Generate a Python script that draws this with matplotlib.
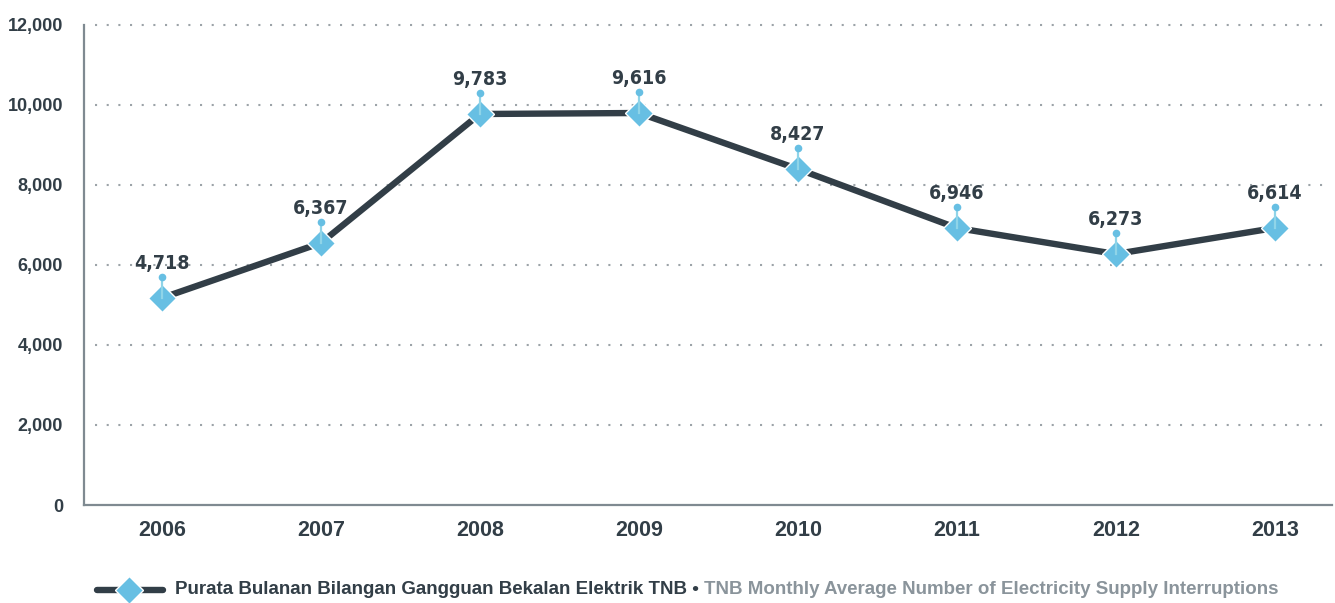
import matplotlib
matplotlib.use("Agg")
import matplotlib.pyplot as plt
from matplotlib.lines import Line2D

# ---- data ----
years = ["2006", "2007", "2008", "2009", "2010", "2011", "2012", "2013"]
plotted_values = [5175, 6550, 9775, 9800, 8400, 6925, 6275, 6925]   # positions as drawn
value_labels = ["4,718", "6,367", "9,783", "9,616", "8,427", "6,946", "6,273", "6,614"]
y_ticks = [0, 2000, 4000, 6000, 8000, 10000, 12000]
y_tick_labels = ["0", "2,000", "4,000", "6,000", "8,000", "10,000", "12,000"]
legend_malay = "Purata Bulanan Bilangan Gangguan Bekalan Elektrik TNB \u2022 "
legend_english = "TNB Monthly Average Number of Electricity Supply Interruptions"

DARK = "#323e47"
GREY_TXT = "#8a949b"
BLUE = "#67bfe3"
PIN = "#8fd4e8"
GRID = "#9ca3a8"
SPINE = "#7f8a91"

plt.rcParams["font.family"] = ["Liberation Sans", "DejaVu Sans"]

fig = plt.figure(figsize=(13.35, 6.03), dpi=100)
ax = fig.add_axes([84 / 1335, 1 - 505 / 603, (1332 - 84) / 1335, 480 / 603])

x = list(range(len(years)))
ax.set_xlim(-0.49, len(years) - 1 + 0.36)
ax.set_ylim(0, 12000)

# grid (dotted)
for yt in y_ticks[1:]:
    ax.plot([-0.42, len(years) - 1 + 0.34], [yt, yt], color=GRID, lw=1.5,
            linestyle=(0, (1, 4.6)), zorder=1, clip_on=False)

# main line
ax.plot(x, plotted_values, color=DARK, lw=4.6, zorder=3, solid_joinstyle="round")

# pins
pin_len = 525
for xi, v in zip(x, plotted_values):
    ax.plot([xi, xi], [v, v + pin_len], color=PIN, lw=1.6, zorder=5)
    ax.plot([xi], [v + pin_len], marker="o", ms=5.5, color=BLUE, mec="none", zorder=6)

# diamonds
ax.plot(x, plotted_values, linestyle="none", marker="D", ms=14, mfc=BLUE,
        mec="white", mew=1.0, zorder=4)

# value labels
for xi, v, lab in zip(x, plotted_values, value_labels):
    ax.annotate(lab, (xi, v), xytext=(0, 21), textcoords="offset points",
                ha="center", va="baseline", fontsize=14, fontweight="bold",
                fontstretch="condensed", color=DARK, family="DejaVu Sans", zorder=7)

# axes styling
for s in ["top", "right"]:
    ax.spines[s].set_visible(False)
ax.spines["left"].set_color(SPINE)
ax.spines["bottom"].set_color(SPINE)
ax.spines["left"].set_linewidth(1.6)
ax.spines["bottom"].set_linewidth(1.6)

ax.set_yticks(y_ticks)
ax.set_yticklabels(y_tick_labels, fontsize=13, fontweight="bold", color=DARK)
ax.set_xticks(x)
ax.set_xticklabels(years, fontsize=15.5, fontweight="bold", color=DARK)
ax.tick_params(axis="y", length=0, pad=15)
ax.tick_params(axis="x", length=0, pad=11)

# legend (manual)
ly = 1 - 590 / 603
fig.add_artist(Line2D([97 / 1335, 163 / 1335], [ly, ly], transform=fig.transFigure,
                      color=DARK, lw=4.6, solid_capstyle="round"))
fig.add_artist(Line2D([129 / 1335], [ly], transform=fig.transFigure, marker="D",
                      ms=14, mfc=BLUE, mec="white", mew=1.0, linestyle="none"))
t1 = fig.text(175 / 1335, ly, legend_malay, fontsize=13.5, fontweight="bold",
              color=DARK, va="center", ha="left")
fig.canvas.draw()
bb = t1.get_window_extent()
fig.text(bb.x1 / fig.bbox.width, ly, legend_english, fontsize=13.5, fontweight="bold",
         color=GREY_TXT, va="center", ha="left")

fig.savefig("out.png", dpi=100)
